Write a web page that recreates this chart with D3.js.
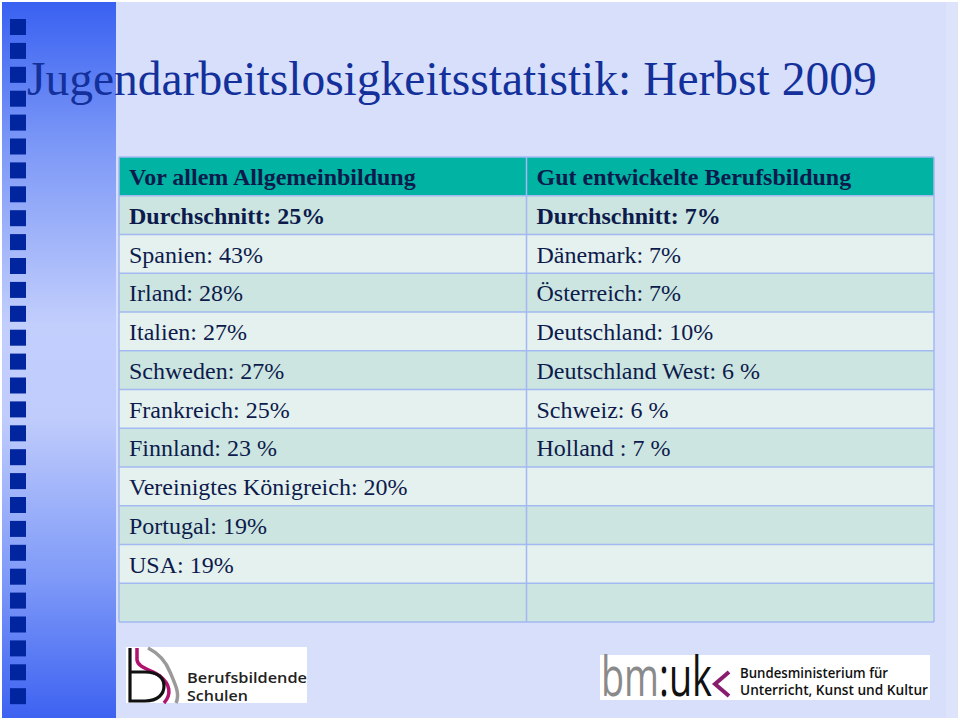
<!DOCTYPE html>
<html>
<head>
<meta charset="utf-8">
<script src="https://cdn.jsdelivr.net/npm/d3@7"></script>
<style>
  html, body { margin: 0; padding: 0; background: #ffffff; }
  svg { display: block; }
</style>
</head>
<body>
<div id="chart"></div>
<script>
// ---------- data ----------
const titleText = "Jugendarbeitslosigkeitsstatistik: Herbst 2009";
const columnHeaders = ["Vor allem Allgemeinbildung", "Gut entwickelte Berufsbildung"];
const averageLabels = ["Durchschnitt: 25%", "Durchschnitt: 7%"];
const generalCountries = ["Spanien", "Irland", "Italien", "Schweden", "Frankreich", "Finnland", "Vereinigtes Königreich", "Portugal", "USA"];
const generalRates = ["43%", "28%", "27%", "27%", "25%", "23 %", "20%", "19%", "19%"];
const vocationalCountries = ["Dänemark", "Österreich", "Deutschland", "Deutschland West", "Schweiz", "Holland "];
const vocationalRates = ["7%", "7%", "10%", "6 %", "6 %", "7 %"];
const rowCount = 12;

// ---------- build table ----------
const generalColumn = [columnHeaders[0], averageLabels[0]].concat(generalCountries.map((c, i) => c + ": " + generalRates[i]));
const vocationalColumn = [columnHeaders[1], averageLabels[1]].concat(vocationalCountries.map((c, i) => c + ": " + vocationalRates[i]));
const columns = [generalColumn, vocationalColumn];
const cells = [];
d3.range(rowCount).forEach(r => {
  columns.forEach((col, c) => {
    cells.push({ row: r, col: c, text: col[r] || "" });
  });
});

const W = 960, H = 720;
const svg = d3.select("#chart").append("svg").attr("width", W).attr("height", H);
const defs = svg.append("defs");

// background
svg.append("rect").attr("width", W).attr("height", H).attr("fill", "#ffffff");
svg.append("rect").attr("x", 2).attr("y", 2).attr("width", 956).attr("height", 716).attr("fill", "#d7dffa");
svg.append("rect").attr("x", 946).attr("y", 2).attr("width", 12).attr("height", 716).attr("fill", "#dce3fb");

// left strip
const grad = defs.append("linearGradient").attr("id", "strip").attr("x1", 0).attr("y1", 0).attr("x2", 0).attr("y2", 1);
[[0, "#3961f1"], [0.2, "#7c98f7"], [0.45, "#c2cefc"], [0.58, "#c0ccfc"], [0.8, "#809bf8"], [1, "#3d62f1"]]
  .forEach(([o, c]) => grad.append("stop").attr("offset", o).attr("stop-color", c));
svg.append("rect").attr("x", 2).attr("y", 2).attr("width", 114).attr("height", 716).attr("fill", "url(#strip)");
svg.append("g").selectAll("rect").data(d3.range(29)).join("rect")
  .attr("x", 10).attr("y", d => 19 + d * 23.9).attr("width", 16).attr("height", 16).attr("fill", "#00259e");

// title
svg.append("text").attr("x", 27).attr("y", 95)
  .attr("font-family", "'Liberation Serif', 'Times New Roman', serif")
  .attr("font-size", 47.5).attr("fill", "#13309b").text(titleText);

// table scales
const y = d3.scaleBand().domain(d3.range(rowCount)).range([157, 622]).padding(0);
const x = d3.scaleBand().domain([0, 1]).range([119, 934]).padding(0);

const rowFill = r => r === 0 ? "#00b3a3" : (r % 2 === 1 ? "#cce5e0" : "#e5f1ef");

const table = svg.append("g");
table.selectAll("rect.cell").data(cells).join("rect")
  .attr("class", "cell")
  .attr("x", d => x(d.col)).attr("y", d => y(d.row))
  .attr("width", x.bandwidth()).attr("height", y.bandwidth())
  .attr("fill", d => rowFill(d.row));

// grid lines
const hLines = d3.range(rowCount + 1).map(i => i < rowCount ? y(i) : y(rowCount - 1) + y.bandwidth());
table.selectAll("line.h").data(hLines).join("line")
  .attr("x1", x.range()[0]).attr("x2", x.range()[1])
  .attr("y1", d => d).attr("y2", d => d)
  .attr("stroke", "#a2b9f1").attr("stroke-width", 1.5);
const vLines = [x(0), x(1), x(1) + x.bandwidth()];
table.selectAll("line.v").data(vLines).join("line")
  .attr("y1", y.range()[0]).attr("y2", y.range()[1])
  .attr("x1", d => d).attr("x2", d => d)
  .attr("stroke", "#a2b9f1").attr("stroke-width", 1.5);

table.selectAll("text").data(cells.filter(d => d.text)).join("text")
  .attr("x", d => x(d.col) + 10).attr("y", d => y(d.row) + 28)
  .attr("font-family", "'Liberation Serif', 'Times New Roman', serif")
  .attr("font-size", 24)
  .attr("font-weight", d => d.row < 2 ? "bold" : "normal")
  .attr("fill", "#0d1b4c")
  .style("white-space", "pre")
  .text(d => d.text);

// ---------- logos ----------
const sans = "'Open Sans', 'DejaVu Sans', sans-serif";
const logoL = svg.append("g");
logoL.append("rect").attr("x", 126).attr("y", 647).attr("width", 181).attr("height", 56).attr("fill", "#ffffff");
logoL.append("path").attr("d", "M148,648 C160,654 166,662 170,672 C176,686 180,694 176,703")
  .attr("fill", "none").attr("stroke", "#9a9a9a").attr("stroke-width", 3.5);
logoL.append("path").attr("d", "M137,648 V660 C138,668 152,670 160,676 C170,684 172,694 164,703")
  .attr("fill", "none").attr("stroke", "#b0126e").attr("stroke-width", 3.5);
logoL.append("path").attr("d", "M130,648 V701 H145 C158,701 164,694 164,686 C164,678 158,672 145,672 H131")
  .attr("fill", "none").attr("stroke", "#111111").attr("stroke-width", 3.2);
logoL.append("text").attr("x", 187).attr("y", 683).attr("font-family", sans)
  .attr("font-weight", 600).attr("font-size", 14.5).attr("fill", "#222222")
  .attr("textLength", 120).attr("lengthAdjust", "spacingAndGlyphs").text("Berufsbildende");
logoL.append("text").attr("x", 187).attr("y", 701).attr("font-family", sans)
  .attr("font-weight", 600).attr("font-size", 14.5).attr("fill", "#222222")
  .attr("textLength", 61).attr("lengthAdjust", "spacingAndGlyphs").text("Schulen");

const logoR = svg.append("g");
logoR.append("rect").attr("x", 600).attr("y", 655).attr("width", 330).attr("height", 45).attr("fill", "#ffffff");
const bm = logoR.append("text").attr("x", 0).attr("y", 0)
  .attr("font-family", sans).attr("font-weight", 400).attr("font-size", 54);
bm.append("tspan").attr("fill", "#8a8a8a").text("bm");
bm.append("tspan").attr("fill", "#111111").text(":uk");
const bmLen = bm.node().getComputedTextLength() || 140;
bm.attr("transform", `translate(601,696) scale(${111 / bmLen},1)`);
logoR.append("path").attr("d", "M729,672 L715,684 L729,696").attr("fill", "none")
  .attr("stroke", "#8b1d6e").attr("stroke-width", 4);
logoR.append("text").attr("x", 740).attr("y", 678).attr("font-family", sans)
  .attr("font-weight", 600).attr("font-size", 13.5).attr("fill", "#111111")
  .attr("textLength", 148).attr("lengthAdjust", "spacingAndGlyphs").text("Bundesministerium für");
logoR.append("text").attr("x", 740).attr("y", 695).attr("font-family", sans)
  .attr("font-weight", 600).attr("font-size", 13.5).attr("fill", "#111111")
  .attr("textLength", 188).attr("lengthAdjust", "spacingAndGlyphs").text("Unterricht, Kunst und Kultur");
</script>
</body>
</html>
